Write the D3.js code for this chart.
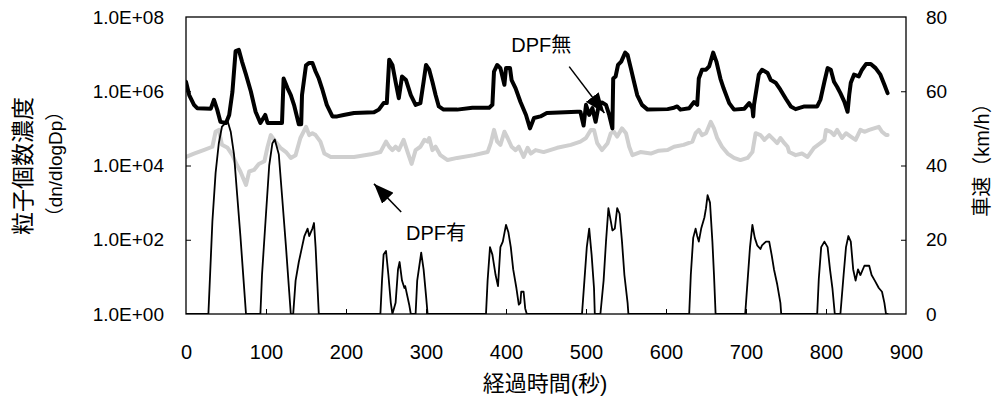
<!DOCTYPE html>
<html>
<head>
<meta charset="utf-8">
<script src="https://cdn.jsdelivr.net/npm/d3@7"></script>
<style>
  html, body { margin: 0; padding: 0; background: #fff; }
  svg text { font-family: "Liberation Sans", Arial, "Noto Sans CJK JP", sans-serif; fill: #000; }
</style>
</head>
<body>
<svg id="chart" width="996" height="396"></svg>
<script>
// Elapsed time (s) and particle number concentration without DPF (dn/dlogDp)
const timeNoDpf = [0,4,10,14,31,35,39,43,50,54,58,62,66,70,75,81,87,93,99,102,120,122,127,131,135,141,144,145,150,154,158,162,166,170,176,183,189,197,210,235,241,247,251,254,258,262,266,270,275,281,287,293,297,300,304,308,312,316,322,339,358,379,383,385,389,393,398,400,405,407,412,418,425,430,435,443,451,489,493,497,500,504,508,512,516,520,525,529,533,534,537,540,544,549,552,556,560,564,570,577,602,610,614,618,629,635,639,641,645,650,654,659,663,668,672,679,685,698,704,708,709,710,716,720,727,731,737,743,750,756,762,773,789,793,798,802,806,810,814,818,823,827,829,831,835,841,845,850,856,862,868,873,877];
const pnNoDpf = [1.8e6,7.9e5,4.3e5,3.5e5,3.4e5,5.9e5,3.2e5,1.5e5,1.4e5,2.3e5,9.5e5,1.2e7,1.3e7,6.3e6,2.8e6,1.0e6,2.8e5,1.4e5,2.3e5,1.4e5,1.4e5,2.2e6,1.2e6,7.9e5,4.3e5,1.3e5,1.3e5,7.9e5,5.0e6,5.8e6,5.8e6,3.4e6,2.2e6,1.2e6,4.3e5,2.1e5,2.1e5,2.3e5,2.6e5,2.7e5,3.2e5,4.8e5,4.8e5,7.1e6,5.1e6,1.8e6,6.5e5,2.5e6,2.0e6,7.9e5,4.3e5,4.8e5,1.8e6,5.1e6,3.8e6,1.8e6,7.9e5,3.9e5,3.2e5,3.2e5,3.6e5,3.6e5,4.3e5,3.4e6,5.1e6,4.2e6,1.5e6,4.2e6,4.2e6,2.0e6,1.2e6,5.2e5,2.3e5,1.0e5,1.9e5,2.1e5,2.6e5,2.8e5,2.8e5,1.2e5,4.3e5,2.3e5,3.5e5,1.5e5,4.3e5,5.0e5,4.3e5,2.3e5,1.0e5,2.2e6,2.5e6,5.1e6,6.3e6,1.1e7,9.5e6,4.2e6,1.8e6,7.9e5,4.3e5,3.2e5,3.3e5,3.6e5,3.9e5,3.2e5,3.5e5,5.1e5,4.3e5,2.2e6,3.8e6,3.8e6,4.7e6,1.1e7,6.3e6,2.2e6,1.2e6,4.8e5,3.2e5,3.4e5,4.8e5,3.5e5,2.1e5,4.3e5,2.8e6,3.8e6,3.1e6,2.0e6,1.7e6,1.1e6,6.2e5,3.9e5,3.3e5,3.9e5,3.9e5,5.9e5,1.8e6,4.2e6,3.8e6,1.8e6,1.3e6,8.9e5,5.2e5,2.8e5,7.9e5,1.7e6,2.8e6,2.5e6,3.8e6,5.4e6,5.4e6,4.2e6,2.8e6,1.5e6,8.9e5];

// Elapsed time (s) and particle number concentration with DPF (dn/dlogDp)
const timeDpf = [0,10,22,33,37,41,45,52,58,64,68,75,79,85,91,98,102,106,112,118,125,131,137,143,150,154,158,162,168,173,181,210,231,243,250,254,258,262,266,272,277,282,287,293,298,302,304,308,312,318,327,339,360,377,381,385,389,393,398,402,407,412,416,422,427,431,437,447,464,481,493,500,506,510,514,520,527,531,535,539,545,550,554,558,568,581,591,602,610,622,633,637,641,645,650,656,660,664,670,677,685,693,702,708,712,718,723,729,735,739,743,748,752,754,762,770,777,785,793,798,800,806,810,814,820,825,831,837,843,848,854,860,866,870,875,877];
const pnDpf = [1.7e4,2.1e4,2.6e4,3.2e4,8.1e4,9.1e4,3.6e4,3.0e4,1.9e4,1.0e4,6.9e3,3.0e3,6.9e3,7.6e3,1.1e4,1.3e4,3.2e4,6.6e4,4.4e4,3.0e4,2.3e4,1.6e4,1.9e4,5.5e4,1.1e5,6.6e4,7.4e4,6.6e4,4.4e4,2.1e4,1.7e4,1.7e4,2.0e4,2.3e4,4.4e4,3.2e4,2.6e4,3.2e4,2.6e4,4.9e4,2.3e4,1.1e4,2.6e4,3.2e4,4.9e4,4.4e4,5.5e4,2.6e4,3.2e4,1.9e4,1.4e4,1.6e4,1.9e4,2.3e4,4.0e4,9.1e4,4.4e4,3.6e4,8.1e4,5.5e4,3.2e4,2.6e4,3.2e4,1.7e4,3.0e4,2.1e4,2.6e4,2.3e4,3.0e4,3.6e4,4.4e4,5.5e4,9.1e4,9.1e4,4.0e4,2.6e4,4.0e4,7.4e4,8.1e4,6.0e4,1.0e5,7.4e4,3.2e4,1.9e4,2.3e4,2.1e4,2.5e4,2.6e4,3.2e4,3.6e4,4.4e4,7.4e4,9.1e4,6.6e4,7.4e4,1.5e5,1.0e5,5.5e4,3.2e4,2.1e4,1.6e4,1.4e4,1.6e4,2.3e4,7.4e4,6.6e4,4.9e4,6.6e4,4.9e4,4.0e4,5.5e4,4.0e4,3.2e4,2.3e4,1.9e4,2.1e4,1.7e4,3.0e4,4.0e4,4.9e4,9.1e4,8.1e4,6.6e4,9.1e4,5.5e4,7.4e4,6.0e4,4.9e4,9.1e4,8.1e4,9.1e4,1.0e5,1.1e5,8.1e4,6.6e4,6.6e4];

// Elapsed time (s) and vehicle speed (km/h)
const timeSpeed = [0,28,33,37,41,45,52,56,60,64,68,72,75,93,95,100,104,108,111,116,120,125,129,131,134,137,141,145,148,152,154,158,160,162,164,166,243,245,247,250,253,256,258,262,265,267,270,273,274,279,281,287,289,293,294,297,300,302,375,377,380,383,387,390,393,396,400,403,406,409,413,416,418,419,422,424,426,495,498,501,504,507,510,511,518,522,525,528,531,533,536,539,542,545,548,552,553,629,631,634,637,639,641,644,648,650,652,655,658,660,662,699,702,705,708,711,714,718,720,725,729,732,735,739,743,744,789,791,794,798,802,805,808,811,818,822,825,828,831,834,837,840,843,848,854,857,861,866,870,873,875,878];
const speedKmh = [0,0,25,38,46,50.5,52,49,43,32,21,9,0,0,10.5,27,40,46,47,43,32,18,6,0,0,9,14,18,21,23,21,23,24.5,18,9,0,0,9,16,17,10.5,3,0,3,12,14,9,7,7.5,2.5,0,0,9,15,16.5,12,5,0,0,9,18,16,10.5,7.5,18,19.5,24,22,18,12,7,2.5,3,6,6,1.5,0,0,9,18,23,16,7,0,0,9,19.5,28.5,25,22.5,23,28.5,27,19.5,10.5,3,0,0,10.5,20.5,23,21,19.5,23,26,28.5,32,30,19.5,10.5,0,0,9,18,24,20.5,18.5,17.5,18.5,19.5,19.5,16,12,8,3,0,0,9.5,18,19.5,18,12,7,0,0,10.5,18,21,19.5,12,9,12,10.5,13,13,10.5,9,7,6,3,0,0];

// Axis ticks and their labels
const xTicks = [0,100,200,300,400,500,600,700,800,900];
const pnTicks = [1e0,1e2,1e4,1e6,1e8];
const pnTickLabels = ["1.0E+00","1.0E+02","1.0E+04","1.0E+06","1.0E+08"];
const speedTicks = [0,20,40,60,80];

// Axis titles and series annotations
const xTitle = "経過時間(秒)";
const pnTitle = "粒子個数濃度";
const pnUnit = "（dn/dlogDp）";
const speedTitle = "車速（km/h）";
const labelNoDpf = "DPF無";
const labelDpf = "DPF有";

const svg = d3.select("#chart");
const plot = { left: 186, right: 906, top: 17, bottom: 314 };

const x = d3.scaleLinear().domain([0, 900]).range([plot.left, plot.right]);
const yPn = d3.scaleLog().domain([1, 1e8]).range([plot.bottom, plot.top]);
const ySpeed = d3.scaleLinear().domain([0, 80]).range([plot.bottom, plot.top]);

const fontSize = 19;

// Axes with inward ticks
const axisLeft = d3.axisLeft(yPn).tickValues(pnTicks)
  .tickFormat((d, i) => pnTickLabels[i]).tickSizeInner(-5).tickSizeOuter(0).tickPadding(22);
const axisRight = d3.axisRight(ySpeed).tickValues(speedTicks)
  .tickSizeInner(-5).tickSizeOuter(0).tickPadding(20);
const axisBottom = d3.axisBottom(x).tickValues(xTicks)
  .tickSizeInner(-5).tickSizeOuter(0).tickPadding(31);

function styleAxis(g, size) {
  g.select(".domain").remove();
  g.selectAll(".tick line").attr("stroke", "#000").attr("stroke-width", 1);
  g.selectAll(".tick text").attr("font-size", size).attr("font-family", null);
}

svg.append("g").attr("transform", `translate(${plot.left},0)`).call(axisLeft).call(styleAxis, fontSize);
svg.append("g").attr("transform", `translate(${plot.right},0)`).call(axisRight).call(styleAxis, fontSize);
svg.append("g").attr("transform", `translate(0,${plot.bottom})`).call(axisBottom).call(styleAxis, 20);

// No tick marks on the frame corners
svg.selectAll(".tick").filter(d => d === 0 || d === 900 || d === 1 || d === 1e8 || d === 80)
  .select("line").remove();

// Series lines
svg.append("clipPath").attr("id", "plotclip").append("rect")
  .attr("x", plot.left).attr("y", plot.top)
  .attr("width", plot.right - plot.left).attr("height", plot.bottom - plot.top);

const lineDpf = d3.line().x((d, i) => x(timeDpf[i])).y(d => yPn(d));
const lineNoDpf = d3.line().x((d, i) => x(timeNoDpf[i])).y(d => yPn(d));
const lineSpeed = d3.line().x((d, i) => x(timeSpeed[i])).y(d => ySpeed(d));

const series = svg.append("g").attr("clip-path", "url(#plotclip)");
series.append("path").datum(pnDpf).attr("d", lineDpf)
  .attr("fill", "none").attr("stroke", "#cfcfcf").attr("stroke-width", 4)
  .attr("stroke-linejoin", "round").attr("stroke-linecap", "round");
series.append("path").datum(pnNoDpf).attr("d", lineNoDpf)
  .attr("fill", "none").attr("stroke", "#000").attr("stroke-width", 4)
  .attr("stroke-linejoin", "round").attr("stroke-linecap", "round");
series.append("path").datum(speedKmh).attr("d", lineSpeed)
  .attr("fill", "none").attr("stroke", "#000").attr("stroke-width", 1.8)
  .attr("stroke-linejoin", "round");

// Plot frame
svg.append("rect")
  .attr("x", plot.left).attr("y", plot.top)
  .attr("width", plot.right - plot.left).attr("height", plot.bottom - plot.top)
  .attr("fill", "none").attr("stroke", "#000").attr("stroke-width", 1.3);

// Annotation arrows
const defs = svg.append("defs");
defs.append("marker").attr("id", "arrowhead")
  .attr("viewBox", "0 0 20 16").attr("refX", 20).attr("refY", 8)
  .attr("markerWidth", 20).attr("markerHeight", 16)
  .attr("markerUnits", "userSpaceOnUse").attr("orient", "auto")
  .append("path").attr("d", "M0,0 L20,8 L0,16 Z").attr("fill", "#000");

function arrow(t0, v0, t1, v1) {
  svg.append("line")
    .attr("x1", x(t0)).attr("y1", yPn(v0))
    .attr("x2", x(t1)).attr("y2", yPn(v1))
    .attr("stroke", "#000").attr("stroke-width", 1.5)
    .attr("marker-end", "url(#arrowhead)");
}
arrow(479, 4.6e6, 523, 2.6e5);
arrow(269, 560, 235, 3.2e3);

svg.append("text").attr("x", x(444)).attr("y", yPn(1.15e7))
  .attr("text-anchor", "middle").attr("font-size", 20).text(labelNoDpf);
svg.append("text").attr("x", x(275)).attr("y", yPn(100))
  .attr("text-anchor", "start").attr("font-size", 20).text(labelDpf);

// Axis titles
svg.append("text").attr("x", (plot.left + plot.right) / 2 - 1).attr("y", 391)
  .attr("text-anchor", "middle").attr("font-size", 22).text(xTitle);
svg.append("text").attr("transform", "translate(31,166) rotate(-90)")
  .attr("text-anchor", "middle").attr("font-size", 23).text(pnTitle);
svg.append("text").attr("transform", "translate(62,164) rotate(-90)")
  .attr("text-anchor", "middle").attr("font-size", 19).text(pnUnit);
svg.append("text").attr("transform", "translate(989,155) rotate(-90)")
  .attr("text-anchor", "middle").attr("font-size", 20).text(speedTitle);
</script>
</body>
</html>
